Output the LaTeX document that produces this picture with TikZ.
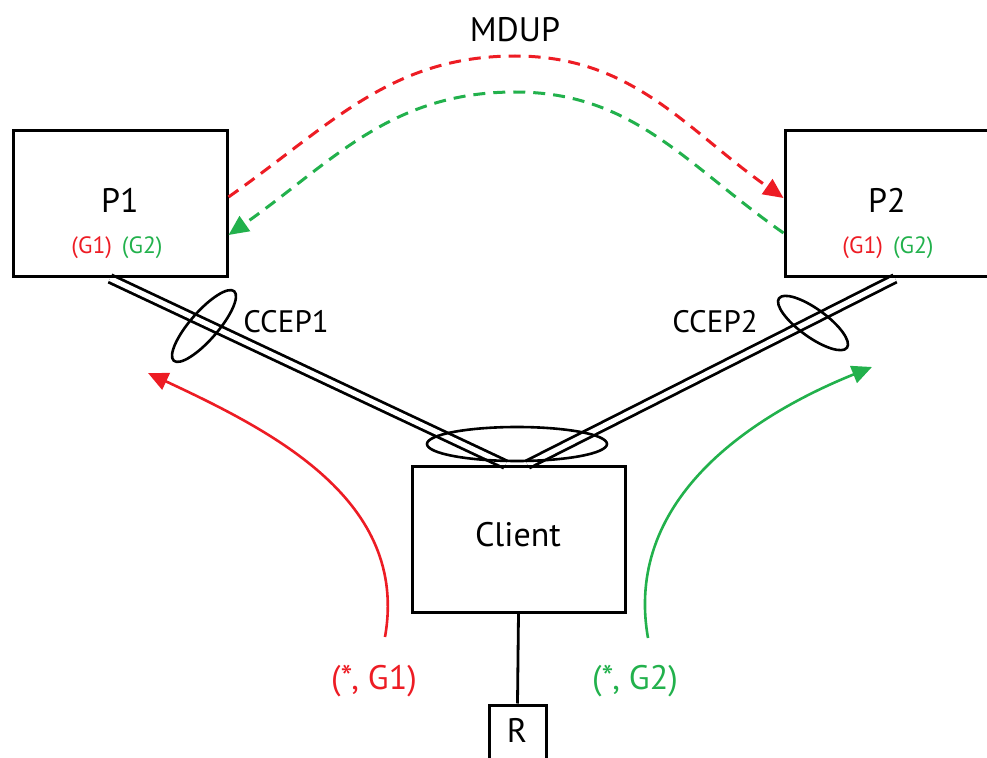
\documentclass[tikz,border=0pt]{standalone}
\usepackage{fontspec}
\setmainfont{PT Sans}
\usetikzlibrary{arrows.meta, calc, shapes.geometric, backgrounds}
\definecolor{mred}{RGB}{237,28,36}
\definecolor{mgreen}{RGB}{34,177,76}
\tikzset{
  device/.style={rectangle, draw=black, line width=1.5pt, inner sep=0pt},
  ring/.style={ellipse, draw=black, line width=1.3pt, inner sep=0pt},
  link/.style={draw=black, line width=1.4pt, double=white, double distance=2.6pt},
  wire/.style={draw=black, line width=1.4pt},
  mdup/.style={dash pattern=on 6pt off 4pt, line width=1.5pt,
    -{Triangle[length=10pt, width=9pt]}},
  joinflow/.style={line width=1.3pt, -{Triangle[length=10pt, width=9pt]}},
  bigtext/.style={font=\fontsize{17}{20}\selectfont, inner sep=0pt},
  midtext/.style={font=\fontsize{15.5}{18}\selectfont, inner sep=0pt},
  smalltext/.style={font=\fontsize{11.8}{14}\selectfont, inner sep=0pt}
}

\begin{document}
\begin{tikzpicture}[x=0.5pt, y=0.5pt]
\useasboundingbox (0,0) rectangle (987,757);

% Devices
\node[device, minimum width=107pt, minimum height=73pt]   (p1)     at (120,553)   {};
\node[device, minimum width=102pt, minimum height=73pt]   (p2)     at (887,553)   {};
\node[device, minimum width=106.5pt, minimum height=73pt] (client) at (518.5,218) {};
\node[device, minimum size=28.5pt]                        (r)      at (517.5,23.5) {};

\node[bigtext] (p1name) at (120,557) {P1};
\node[smalltext] (p1grp) at (117,509)
  {\textcolor{mred}{(G1)}\hspace{5pt}\textcolor{mgreen}{(G2)}};
\node[bigtext] (p2name) at (887,557) {P2};
\node[smalltext] (p2grp) at (888,509)
  {\textcolor{mred}{(G1)}\hspace{5pt}\textcolor{mgreen}{(G2)}};
\node[bigtext] (clientname) at (518,222) {Client};
\node[bigtext] (rname) at (517,27) {R};

% ── Port channels ──────────────────────────────────────────────
\begin{scope}[on background layer]
\draw[link] ($(p1.south)+(-10,0)$) -- ($(client.north)+(-13,0)$);
\draw[link] ($(p2.south)+(8,0)$)   -- ($(client.north)+(9,0)$);
\end{scope}
\draw[wire] (client.south) -- (r.north);

\node[ring, minimum width=46pt, minimum height=14pt, rotate=49]  (ccep1ring)  at (204,431) {};
\node[ring, minimum width=42pt, minimum height=14pt, rotate=-36] (ccep2ring)  at (813,434) {};
\node[ring, minimum width=90pt, minimum height=17pt]             (clientring) at (517,313) {};
\node[midtext] (ccep1) at (286,435) {CCEP1};
\node[midtext] (ccep2) at (715,435) {CCEP2};

% ── MDUP sync ──────────────────────────────────────────────
\node[bigtext] (mdup) at (515,727) {MDUP};
\coordinate (redtop)   at (515,701);
\coordinate (greentop) at (515,665);
\draw[mdup, mred] ($(p1.east)+(0,7)$) to[out=35, in=180] (redtop)
  to[out=0, in=145] ($(p2.west)+(0,6)$);
\draw[mdup, mgreen] ($(p2.west)+(0,-29)$) to[out=145, in=0] (greentop)
  to[out=180, in=35] ($(p1.east)+(0,-31)$);

% ── Joins ──────────────────────────────────────────────
\node[bigtext, text=mred]   (g1join) at (374,76) {(*, G1)};
\node[bigtext, text=mgreen] (g2join) at (635,76) {(*, G2)};
\coordinate (g1from) at (385,120);
\coordinate (g1to)   at (148,384);
\coordinate (g2from) at (648,119);
\coordinate (g2to)   at (872,390);
\draw[joinflow, mred]   (g1from) to[out=80, in=-25] (g1to);
\draw[joinflow, mgreen] (g2from) to[out=100, in=-158] (g2to);

\end{tikzpicture}
\end{document}
